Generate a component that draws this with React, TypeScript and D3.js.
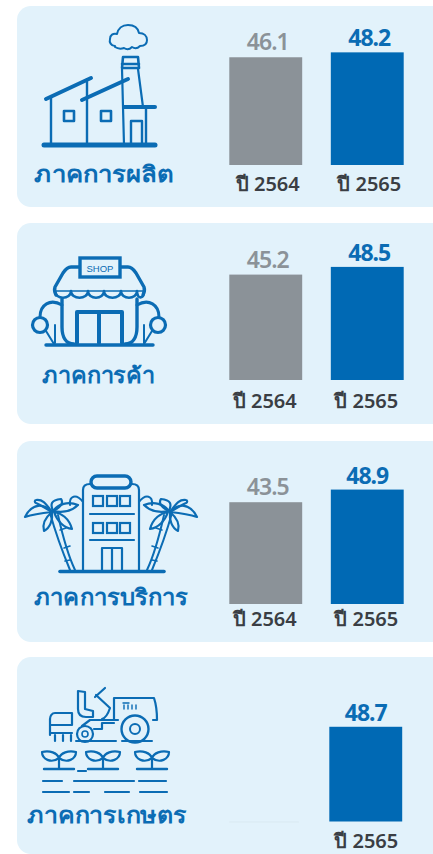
import React from 'react';
import * as d3 from 'd3';

const sectors = ['ภาคการผลิต', 'ภาคการค้า', 'ภาคการบริการ', 'ภาคการเกษตร'];
const years = ['ปี 2564', 'ปี 2565'];
const values2564 = [46.1, 45.2, 43.5, null];
const values2565 = [48.2, 48.5, 48.9, 48.7];

// layout, one entry per panel
const panelTops = [6, 223, 441, 657];
const panelBottoms = [207, 424, 642, 854];
const barBases = [165, 380, 604, 821.5];
const pxPerUnit = [2.337, 2.332, 2.34, 1.945];
const barShift = [0, 0, 0, -1.5];
const yearBase = [191, 408, 626, 848];
const yearShift = [0, -3, -3, -3];
const valueShift = [0, 0, -2, -2];
const labelX = [34, 42, 34, 27];
const labelW = [139, 113, 154, 160];
const labelY = [182, 383, 605, 823];

const BLUE = '#0b6cb4';
const BAR_BLUE = '#0069b4';
const GREY = '#8b9298';
const PANEL = '#e2f2fb';
const DARK = '#3a3e44';
const FONT = '"Noto Sans", "Open Sans", sans-serif';

const x = d3.scaleBand<string>().domain(years).range([229.3, 403.7]).paddingInner(0.282);

function Line({ d, w = 2.4 }: { d: string; w?: number }) {
  return <path d={d} fill="none" stroke={BLUE} strokeWidth={w} strokeLinecap="round" strokeLinejoin="round" />;
}

function Factory() {
  return (
    <g>
      <Line d="M115 46c-4 0-6-4-5-7 0-4 3-6 7-5 1-5 5-9 11-9s10 3 11 8c5 0 8 3 8 7s-3 6-7 6c-2 2-5 3-8 1-2 2-5 3-8 1-3 1-6 1-9-1z" w={2} />
      <Line d="M123 57h15l1 11h-17zM122 64h17" w={2.6} />
      <Line d="M122 69l2 76M138 69l5 38" w={2.2} />
      <Line d="M46 99l45-21M82 100l46-21" w={4} />
      <Line d="M51 97v46M87 82v61" w={2.4} />
      <Line d="M124 107h31" w={4} />
      <Line d="M146 108v36" w={2.4} />
      <Line d="M131 143v-22h11v22" w={2.4} />
      <Line d="M64 111h10v10h-10zM101 111h10v10h-10z" w={2.6} />
      <Line d="M44 145h111" w={5} />
    </g>
  );
}

function Shop() {
  return (
    <g>
      <Line d="M79 52h-8c-4 0-6 3-8 6l-8 14c-1 3 0 6 1 8M120 52h8c4 0 6 3 8 6l8 14c1 3 0 6-1 8" w={3.4} />
      <Line d="M55 76c0 9 16 9 16 0c0 9 17 9 17 0c0 9 16 9 16 0c0 9 17 9 17 0c0 9 16 9 16 0c0 9 7 8 7 0" w={2.6} />
      <Line d="M55 76h90" w={1.5} />
      <rect x={80} y={43} width={40} height={19} fill={PANEL} stroke={BLUE} strokeWidth={3.4} />
      <text x={100} y={57} fontFamily="Liberation Sans" fontSize={9.5} fill={BLUE} textAnchor="middle">SHOP</text>
      <Line d="M62 84v28c0 10 4 17 12 17M137 84v28c0 10-4 17-12 17" w={3.4} />
      <Line d="M77 128v-31h45v31M99 98v30" w={4} />
      <Line d="M62 90c-12-7-22 0-22 12M137 90c12-7 22 0 22 12" w={3} />
      <circle cx={40} cy={110} r={7.5} fill={PANEL} stroke={BLUE} strokeWidth={3.2} />
      <circle cx={158} cy={110} r={7.5} fill={PANEL} stroke={BLUE} strokeWidth={3.2} />
      <Line d="M46 116l8 13M152 116l-8 13M55 110v18M144 110v18" w={2} />
      <Line d="M46 130h107" w={3.4} />
    </g>
  );
}

function Palm({ flip }: { flip?: boolean }) {
  return (
    <g transform={flip ? 'translate(222 0) scale(-1 1)' : undefined}>
      <Line d="M50 83c5 18 13 40 20 57M58 85c4 18 9 38 17 55" w={2} />
      <Line d="M60 100l6-2M64 118l6-2M70 130l-5 1" w={1.6} />
      <Line d="M52 82c-8-9-20-9-27 5c9-3 18-4 27-5z" w={2.2} />
      <Line d="M52 82c-6-8-9-13-16-12c-1 0-2 2 0 3c5 2 10 6 16 9z" w={2.2} />
      <Line d="M53 81c-3-7-2-11 8-12c3 4-1 9-8 12z" w={2.2} />
      <Line d="M53 81c5-7 15-10 25-6c-6 6-15 8-25 6z" w={2.2} />
      <Line d="M52 82c-6 5-10 12-8 19c6-3 9-11 8-19z" w={2.2} />
      <Line d="M54 82c7 1 15 6 18 17c-8-1-15-8-18-17z" w={2.2} />
    </g>
  );
}

function Hotel() {
  return (
    <g>
      <Line d="M83 140v-80c0-4 3-6 7-6M139 140v-80c0-4-3-6-7-6" w={2.2} />
      <rect x={91} y={46} width={40} height={12} rx={6} fill={PANEL} stroke={BLUE} strokeWidth={3.4} />
      <Line d="M83 72c-7-9-14-6-13 3M139 72c7-9 14-6 13 3" w={2} />
      {[93, 107, 120].map((wx) => (
        <g key={wx}>
          <rect x={wx} y={66} width={10} height={10} fill="none" stroke={BLUE} strokeWidth={2.2} />
          <rect x={wx} y={93} width={10} height={10} fill="none" stroke={BLUE} strokeWidth={2.2} />
        </g>
      ))}
      <Line d="M90 84h44M90 110h44" w={2.2} />
      <Line d="M102 140v-22h20v22M112 118v22" w={2.2} />
      <Palm />
      <Palm flip />
      <Line d="M60 141.500h104" w={3.6} />
    </g>
  );
}

function Sprout({ cx }: { cx: number }) {
  return (
    <g transform={`translate(${cx} 0)`}>
      <Line d="M0 124v-10M0 113c-2-5-9-8-17-6c0 7 9 12 17 6zM0 113c2-5 9-8 17-6c0 7-9 12-17 6z" w={2.2} />
      <Line d="M-15 124h30" w={2.4} />
    </g>
  );
}

function Tractor() {
  return (
    <g>
      <Line d="M114 75v-22h40c2 6 3 14 3 22h-4M114 75h-4" w={2.2} />
      <Line d="M123 58h6M124 60v4M128 60v4M132 60v4M136 60v4" w={1.4} />
      <circle cx={135} cy={84} r={13.500} fill="none" stroke={BLUE} strokeWidth={2.4} />
      <circle cx={135} cy={84} r={5} fill="none" stroke={BLUE} strokeWidth={2} />
      <circle cx={85} cy={89} r={8} fill="none" stroke={BLUE} strokeWidth={2.2} />
      <circle cx={85} cy={89} r={3} fill="none" stroke={BLUE} strokeWidth={1.6} />
      <Line d="M78 46v18c0 5 3 8 8 8h7v-6l-8-2v-17z" w={2.2} />
      <Line d="M95 52l10-9M96 50l14 13c-2 6-4 10-8 11M118 75h-28l-8 6M94 84h8v-6h12" w={2.2} />
      <Line d="M50 90v-16c0-3 2-6 5-6h17v12h-22M50 88h22M55 90v6M63 90v6M71 90v6" w={2.2} />
      <Line d="M76 96h40M106 96h6M122 96h30" w={2} />
      <Sprout cx={59} />
      <Sprout cx={103} />
      <Sprout cx={152} />
      <Line d="M78 126h8M43 136h19M74 136h60M139 136h27M43 147h26M74 147h15M105 147h24M140 147h27" w={2.2} />
    </g>
  );
}

const icons = [<Factory />, <Shop />, <Hotel />, <Tractor />];
const iconDy = [0, 215, 430, 645];

function Panel({ i }: { i: number }) {
  const top = panelTops[i];
  const bottom = panelBottoms[i];
  const y = d3.scaleLinear().domain([0, 1]).range([barBases[i], barBases[i] - pxPerUnit[i]]);
  const old = values2564[i];
  const cur = values2565[i];
  const bw = x.bandwidth();
  const xOld = x(years[0])! + barShift[i];
  const xCur = x(years[1])! + barShift[i];
  return (
    <g>
      <rect x={17} y={top} width={430} height={bottom - top} rx={14} fill={PANEL} />
      <g transform={`translate(0 ${iconDy[i]})`}>{icons[i]}</g>
      <text
        x={labelX[i]}
        y={labelY[i]}
        textLength={labelW[i]}
        lengthAdjust="spacingAndGlyphs"
        fontFamily={FONT}
        fontWeight={600}
        fontSize={22}
        fill={BLUE}
      >
        {sectors[i]}
      </text>
      {old != null ? (
        <g>
          <rect x={xOld} y={y(old)} width={bw} height={barBases[i] - y(old)} fill={GREY} />
          <text x={xOld + bw / 2 + 2} y={y(old) - 7} textAnchor="middle" fontFamily={FONT} fontWeight={600} fontSize={23} letterSpacing={-1} fill={GREY}>
            {old.toFixed(1)}
          </text>
          <text x={xOld + bw / 2 + 2 + yearShift[i]} y={yearBase[i]} textAnchor="middle" fontFamily={FONT} fontWeight={600} fontSize={20} fill={DARK}>
            {years[0]}
          </text>
        </g>
      ) : (
        <line x1={xOld + 1.5} x2={xOld + 71} y1={barBases[i] + 0.5} y2={barBases[i] + 0.5} stroke="#d9e9f1" strokeWidth={1} />
      )}
      <rect x={xCur} y={y(cur)} width={bw} height={barBases[i] - y(cur)} fill={BAR_BLUE} />
      <text x={xCur + bw / 2 + 1 + valueShift[i] + 1} y={y(cur) - 6} textAnchor="middle" fontFamily={FONT} fontWeight={700} fontSize={23} letterSpacing={-1} fill={BLUE}>
        {cur.toFixed(1)}
      </text>
      <text x={x(years[1])! + bw / 2 + 2 + yearShift[i]} y={yearBase[i]} textAnchor="middle" fontFamily={FONT} fontWeight={600} fontSize={20} fill={DARK}>
        {years[1]}
      </text>
    </g>
  );
}

export default function App() {
  return (
    <svg
      width={433}
      height={854}
      style={{ position: 'absolute', left: 0, top: 0, display: 'block', background: '#fff' }}
    >
      {sectors.map((_, i) => (
        <Panel key={i} i={i} />
      ))}
    </svg>
  );
}
